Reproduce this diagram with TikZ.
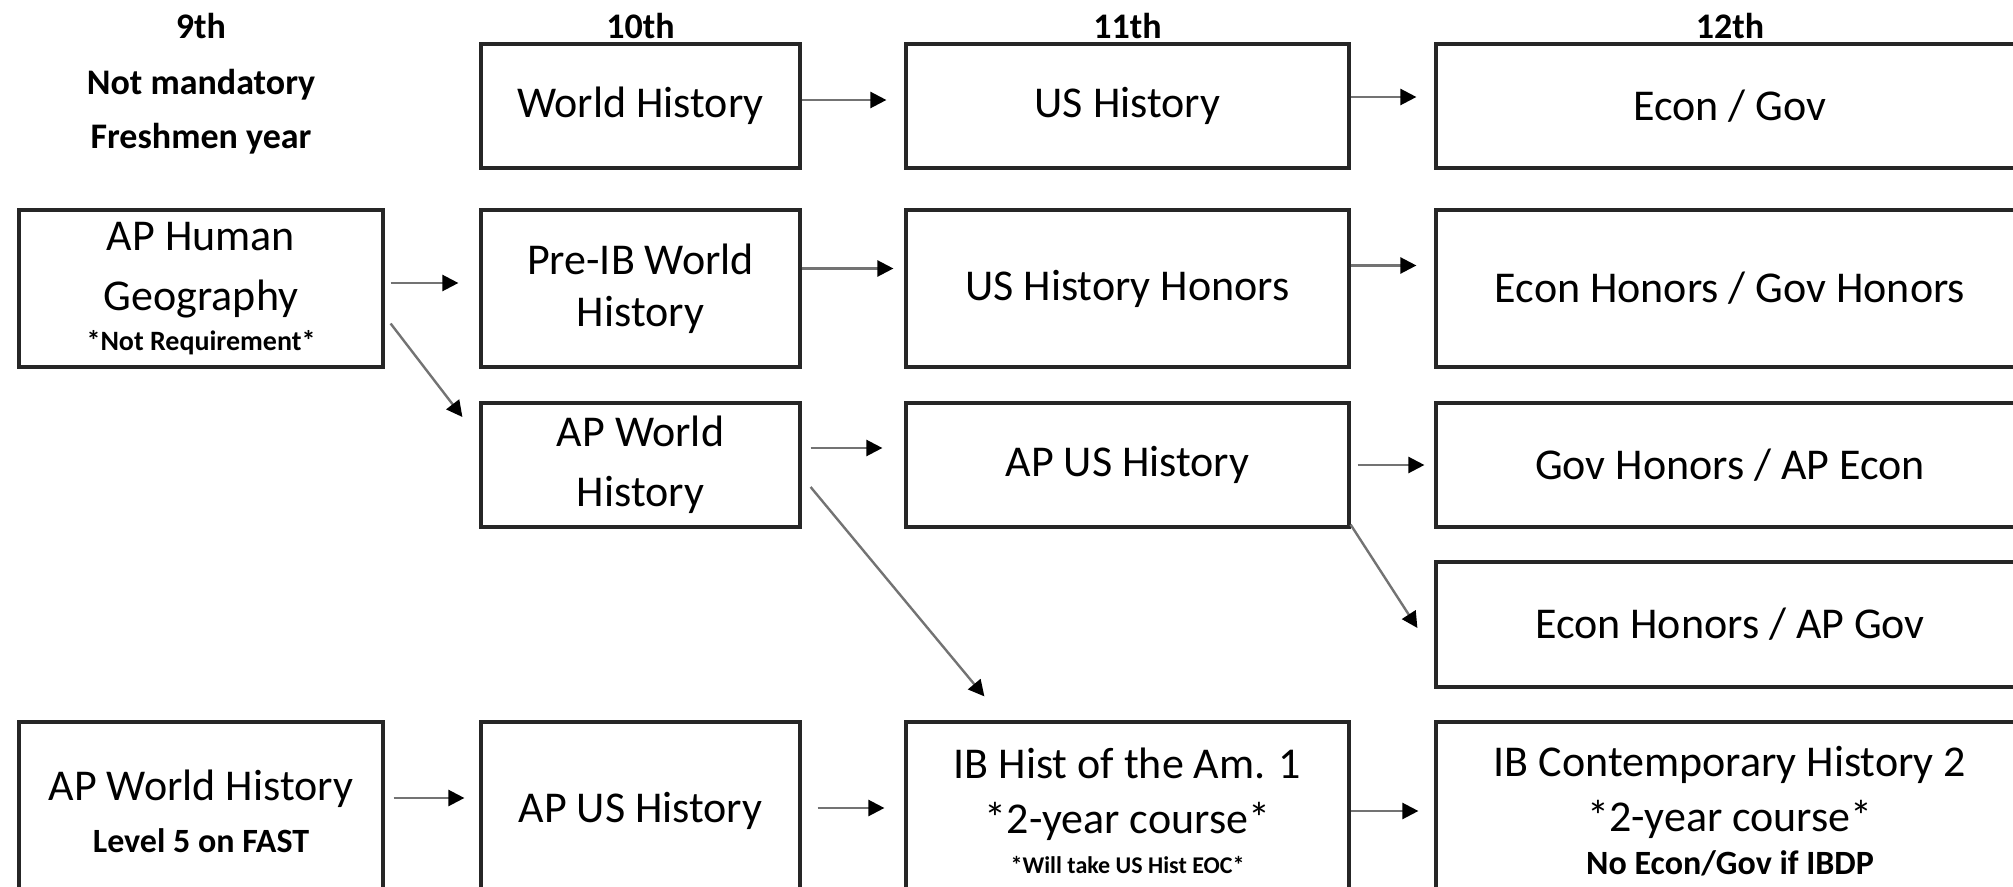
\documentclass[tikz,border=0pt]{standalone}
\usepackage{fontspec}
\setmainfont{Carlito}
\usetikzlibrary{arrows.meta}
\usetikzlibrary{calc}

\begin{document}
\begin{tikzpicture}[x=0.5pt, y=-0.5pt,
        cours/.style={draw=black!85, line width=1.6pt, inner sep=0pt, align=center, font=\fontsize{22}{30}\selectfont},
        fleche/.style={draw=black!55, line width=1.2pt, -{Triangle[length=8pt,width=8pt,color=black]}},
        annee/.style={font=\fontsize{18}{18}\selectfont\bfseries, inner sep=0pt, anchor=base}]
        % Cadre de l'image
        \useasboundingbox (0,0) rectangle (2013,887);
        \clip (0,0) rectangle (2013,887);

        % Titres des colonnes
        \node[annee] (neuf) at (201,38.5) {9th};
        \node[annee] (mandat) at (201,94.5) {Not mandatory};
        \node[annee] (fresh) at (201,148.5) {Freshmen year};
        \node[annee] (dix) at (640.5,38.5) {10th};
        \node[annee] (onze) at (1127.5,38.5) {11th};
        \node[annee] (douze) at (1730,38.5) {12th};

        % Ligne 1
        \node[cours, minimum width=159.5pt, minimum height=62pt] (wh) at (640.5,106) {World History};
        \node[cours, minimum width=221.5pt, minimum height=62pt] (ush) at (1127.5,106) {US History};
        \node[cours, minimum width=294pt, minimum height=62pt] (econgov) at (1730,106) {Econ / Gov};

        % Ligne 2
        \node[cours, minimum width=182pt, minimum height=78.5pt] (aphg) at (201,288.5) {AP Human\\Geography\\[-10pt]{\fontsize{14}{14}\selectfont\bfseries *Not Requirement*}};
        \node[cours, minimum width=159.5pt, minimum height=78.5pt] (preib) at (640.5,288.5) {Pre-IB World\\[-4pt]History};
        \node[cours, minimum width=221.5pt, minimum height=78.5pt] (ushh) at (1127.5,288.5) {US History Honors};
        \node[cours, minimum width=294pt, minimum height=78.5pt] (econhon) at (1730,288.5) {Econ Honors / Gov Honors};

        % Ligne 3 et 4
        \node[cours, minimum width=159.5pt, minimum height=62pt] (apworld) at (640.5,465) {AP World\\History};
        \node[cours, minimum width=221.5pt, minimum height=62pt] (apus) at (1127.5,465) {AP US History};
        \node[cours, minimum width=294pt, minimum height=62pt] (govhon) at (1730,465) {Gov Honors / AP Econ};
        \node[cours, minimum width=294pt, minimum height=62.5pt] (econapgov) at (1730,624.5) {Econ Honors / AP Gov};

        % Ligne du bas
        \node[cours, minimum width=182pt, minimum height=89pt] (apworldfast) at (201,811) {AP World History\\[-4pt]{\fontsize{17}{17}\selectfont\bfseries Level 5 on FAST}};
        \node[cours, minimum width=159.5pt, minimum height=89pt] (apusdix) at (640.5,811) {AP US History};
        \node[cours, minimum width=221.5pt, minimum height=89pt] (ibam) at (1127.5,811) {IB Hist of the Am. 1\\[-2.5pt]*2-year course*\\[-10pt]{\fontsize{12}{12}\selectfont\bfseries *Will take US Hist EOC*}};
        \node[cours, minimum width=294pt, minimum height=89pt] (ibcont) at (1730,811) {IB Contemporary History 2\\[-2.5pt]*2-year course*\\[-8.5pt]{\fontsize{17}{17}\selectfont\bfseries No Econ/Gov if IBDP}};

        % Fleches
        \draw[fleche, shorten >=9pt] ([yshift=3pt]wh.east) -- ([yshift=3pt]ush.west);
        \draw[fleche, shorten >=9pt] ([yshift=4.5pt]ush.east) -- ([yshift=4.5pt]econgov.west);
        \draw[fleche, shorten <=3pt, shorten >=10.5pt] ([yshift=2.75pt]aphg.east) -- ([yshift=2.75pt]preib.west);
        \draw[fleche] ($(aphg.east)+(6,35)$) -- ($(apworld.west)+(-17,-48)$);
        \draw[fleche, shorten >=5.5pt] ([yshift=10pt]preib.east) -- ([yshift=10pt]ushh.west);
        \draw[fleche, shorten >=9pt] ([yshift=11.5pt]ushh.east) -- ([yshift=11.5pt]econhon.west);
        \draw[fleche, shorten <=4.5pt, shorten >=11pt] ([yshift=8.5pt]apworld.east) -- ([yshift=8.5pt]apus.west);
        \draw[fleche, shorten <=3.5pt, shorten >=5pt] (apus.east) -- (govhon.west);
        \draw[fleche] ($(apus.south east)+(0,-4)$) -- ($(econapgov.west)+(-17,3.5)$);
        \draw[fleche] ($(apworld.east)+(9,22)$) -- ($(ibam.north west)+(80,-24)$);
        \draw[fleche, shorten <=4.5pt, shorten >=7.5pt] ([yshift=6.5pt]apworldfast.east) -- ([yshift=6.5pt]apusdix.west);
        \draw[fleche, shorten <=8pt, shorten >=10pt] ([yshift=1.5pt]apusdix.east) -- ([yshift=1.5pt]ibam.west);
        \draw[fleche, shorten >=8pt] (ibam.east) -- (ibcont.west);
\end{tikzpicture}
\end{document}
